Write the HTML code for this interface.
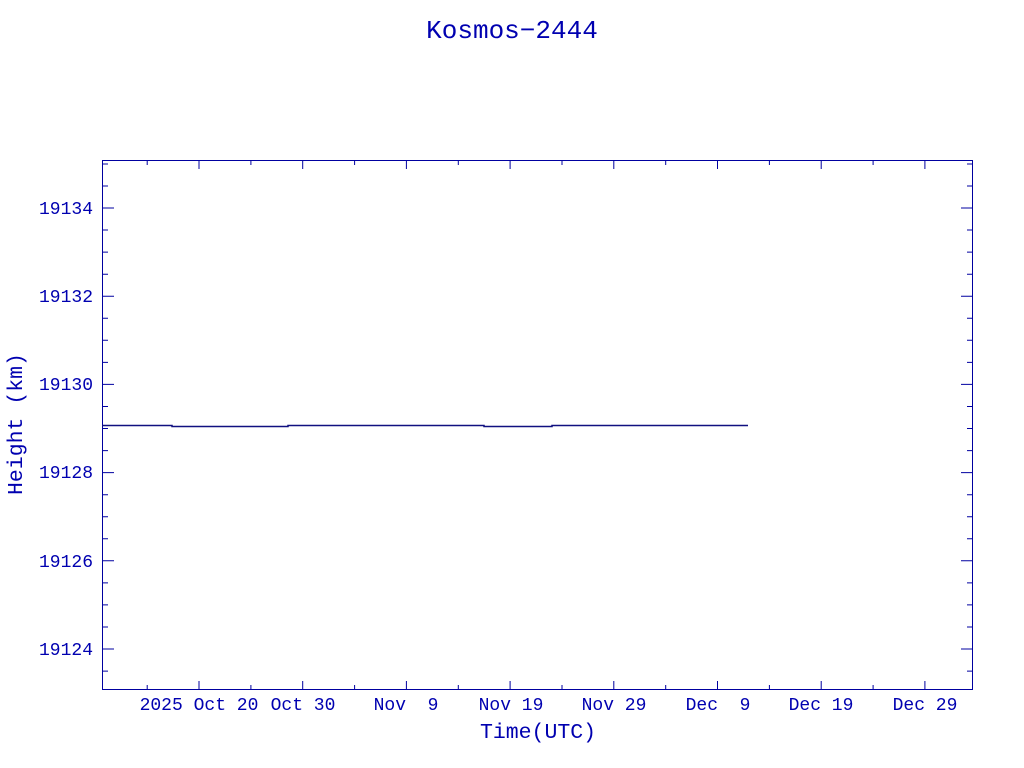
<!DOCTYPE html>
<html><head><meta charset="utf-8"><style>
html,body{margin:0;padding:0;background:#fff;}
svg{display:block;}
text{font-family:"Liberation Mono",monospace;fill:#0000b0;white-space:pre;}
</style></head><body>
<svg width="1024" height="768" viewBox="0 0 1024 768" xmlns="http://www.w3.org/2000/svg" xml:space="preserve">
<text x="512" y="38" font-size="26" text-anchor="middle">Kosmos−2444</text>
<rect x="102.5" y="160.5" width="870" height="529" fill="none" stroke="#0000a0" stroke-width="1"/>
<g stroke="#0000a0" stroke-width="1">
<path d="M102 208h12M102 296.2h12M102 384.4h12M102 472.6h12M102 560.8h12M102 649h12
M973 208h-12M973 296.2h-12M973 384.4h-12M973 472.6h-12M973 560.8h-12M973 649h-12"/>
<path d="M102 164h6M102 186h6M102 230h6M102 252.1h6M102 274.2h6M102 318.3h6M102 340.3h6M102 362.4h6M102 406.5h6M102 428.5h6M102 450.6h6M102 494.7h6M102 516.7h6M102 538.8h6M102 582.9h6M102 604.9h6M102 627h6M102 671.1h6
M973 164h-6M973 186h-6M973 230h-6M973 252.1h-6M973 274.2h-6M973 318.3h-6M973 340.3h-6M973 362.4h-6M973 406.5h-6M973 428.5h-6M973 450.6h-6M973 494.7h-6M973 516.7h-6M973 538.8h-6M973 582.9h-6M973 604.9h-6M973 627h-6M973 671.1h-6"/>
<path d="M199 690v-9M302.7 690v-9M406.4 690v-9M510.1 690v-9M613.8 690v-9M717.5 690v-9M821.2 690v-9M924.9 690v-9
M199 160v9M302.7 160v9M406.4 160v9M510.1 160v9M613.8 160v9M717.5 160v9M821.2 160v9M924.9 160v9"/>
<path d="M147.2 690v-5M250.9 690v-5M354.6 690v-5M458.3 690v-5M562 690v-5M665.7 690v-5M769.4 690v-5M873.1 690v-5
M147.2 160v5M250.9 160v5M354.6 160v5M458.3 160v5M562 160v5M665.7 160v5M769.4 160v5M873.1 160v5"/>
</g>
<path d="M102 425.5H172V426.5H288V425.5H484V426.5H552V425.5H748" fill="none" stroke="#101080" stroke-width="1.5"/>
<g font-size="18" text-anchor="end">
<text x="93" y="214">19134</text>
<text x="93" y="302">19132</text>
<text x="93" y="390">19130</text>
<text x="93" y="478">19128</text>
<text x="93" y="567">19126</text>
<text x="93" y="655">19124</text>
</g>
<g font-size="18" text-anchor="middle">
<text x="199" y="710">2025 Oct 20</text>
<text x="303" y="710">Oct 30</text>
<text x="406" y="710">Nov  9</text>
<text x="511" y="710">Nov 19</text>
<text x="614" y="710">Nov 29</text>
<text x="718" y="710">Dec  9</text>
<text x="821" y="710">Dec 19</text>
<text x="925" y="710">Dec 29</text>
</g>
<text x="538" y="738" font-size="21.5" text-anchor="middle">Time(UTC)</text>
<text transform="translate(22,424) rotate(-90)" font-size="21.5" text-anchor="middle">Height (km)</text>
</svg>
</body></html>
